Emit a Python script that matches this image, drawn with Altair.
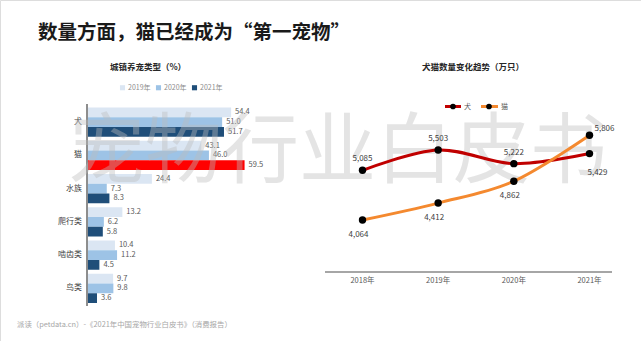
import altair as alt
import pandas as pd

TITLE = "数量方面，猫已经成为“第一宠物”"
LEFT_TITLE = "城镇养宠类型（%）"
RIGHT_TITLE = "犬猫数量变化趋势（万只）"
WATERMARK = "宠物行业白皮书"
SOURCE = "派读（petdata.cn）-《2021年中国宠物行业白皮书》（消费报告）"

categories = ["犬", "猫", "水族", "爬行类", "啮齿类", "鸟类"]
bar_years = ["2019年", "2020年", "2021年"]
share_2019 = [54.4, 43.1, 24.4, 13.2, 10.4, 9.7]
share_2020 = [51.0, 46.0, 7.3, 6.2, 11.2, 9.8]
share_2021 = [51.7, 59.5, 8.3, 5.8, 4.5, 3.6]
highlight = ("猫", "2021年")

line_years = ["2018年", "2019年", "2020年", "2021年"]
series = ["犬", "猫"]
dog_count = [5085, 5503, 5222, 5429]
cat_count = [4064, 4412, 4862, 5806]

FONT = "Noto Sans CJK SC"
C19, C20, C21, CHL = "#dbe6f3", "#9dc3e6", "#1f4e79", "#ff0000"
C_DOG, C_CAT = "#c00000", "#f4892f"

rows = []
for i, c in enumerate(categories):
    for yr, vals in zip(bar_years, [share_2019, share_2020, share_2021]):
        key = "hl" if (c, yr) == highlight else yr
        rows.append(dict(cat=c, year=yr, value=vals[i], key=key))
bars_df = pd.DataFrame(rows)
cat_df = pd.DataFrame({"cat": categories})

lrows = []
for s, vals in zip(series, [dog_count, cat_count]):
    for yr, v in zip(line_years, vals):
        lrows.append(dict(series=s, year=yr, value=v))
line_df = pd.DataFrame(lrows)
year_df = pd.DataFrame({"year": line_years})

# ---------------- bar block ----------------
y_cat = alt.Y("cat:N", scale=alt.Scale(domain=categories, range=[105.5, 305],
                                        paddingInner=0.12, paddingOuter=0.06), axis=None)
x_val = alt.X("value:Q", scale=alt.Scale(domain=[0, 100], range=[87.5, 351.5],
                                          zero=False, nice=False), axis=None)
y_off = alt.YOffset("year:N", scale=alt.Scale(domain=bar_years, paddingInner=0, paddingOuter=0))

bars = alt.Chart(bars_df).mark_bar().encode(
    x=x_val, y=y_cat, yOffset=y_off,
    color=alt.Color("key:N",
                    scale=alt.Scale(domain=bar_years + ["hl"], range=[C19, C20, C21, CHL]),
                    legend=alt.Legend(values=bar_years, orient="none", legendX=119, legendY=84,
                                      direction="horizontal", title=None, symbolType="square",
                                      symbolSize=26, symbolStrokeWidth=0, labelFontSize=7,
                                      labelFont=FONT, labelColor="#8c8c8c", columnPadding=4,
                                      labelOffset=2)),
)
bar_labels = alt.Chart(bars_df).mark_text(align="left", baseline="middle", dx=4, fontSize=7.5,
                                          color="#595959").encode(
    x=x_val, y=y_cat, yOffset=y_off, text=alt.Text("value:Q", format=".1f"))
cat_labels = alt.Chart(cat_df).mark_text(align="right", baseline="middle", fontSize=8,
                                         color="#404040").encode(
    x=alt.value(82), y=y_cat, text="cat:N")
bar_axis = alt.Chart(cat_df).mark_rule(color="#8c8c8c", strokeWidth=1).encode(
    x=alt.value(87), y=alt.value(104), y2=alt.value(306))
bar_block = alt.layer(bars, bar_labels, cat_labels, bar_axis)

# ---------------- line block ----------------
x_year = alt.X("year:O", scale=alt.Scale(type="point", domain=line_years, range=[362.5, 589.5],
                                          padding=0), axis=None)
y_cnt = alt.Y("value:Q", scale=alt.Scale(domain=[3000, 6000], range=[271.8, 125.8],
                                          zero=False, nice=False), axis=None)

lines = alt.Chart(line_df).mark_line(interpolate="cardinal", strokeWidth=3).encode(
    x=x_year, y=y_cnt,
    color=alt.Color("series:N", scale=alt.Scale(domain=series, range=[C_DOG, C_CAT]), legend=None))
points = alt.Chart(line_df).mark_point(filled=True, size=55, color="black", opacity=1).encode(
    x=x_year, y=y_cnt)

lab_style = dict(fontSize=8, color="#404040", baseline="middle")
lab_dog = alt.Chart(line_df).transform_filter(
    (alt.datum.series == series[0]) & (alt.datum.year != line_years[-1])
).mark_text(dy=-11, **lab_style).encode(x=x_year, y=y_cnt, text=alt.Text("value:Q", format=",d"))
lab_dog_last = alt.Chart(line_df).transform_filter(
    (alt.datum.series == series[0]) & (alt.datum.year == line_years[-1])
).mark_text(dy=19, dx=8, **lab_style).encode(x=x_year, y=y_cnt, text=alt.Text("value:Q", format=",d"))
lab_cat = alt.Chart(line_df).transform_filter(
    (alt.datum.series == series[1]) & (alt.datum.year != line_years[-1])
).mark_text(dy=15, dx=-4, **lab_style).encode(x=x_year, y=y_cnt, text=alt.Text("value:Q", format=",d"))
lab_cat_last = alt.Chart(line_df).transform_filter(
    (alt.datum.series == series[1]) & (alt.datum.year == line_years[-1])
).mark_text(dy=-6, dx=5, align="left", **lab_style).encode(x=x_year, y=y_cnt,
                                                           text=alt.Text("value:Q", format=",d"))
year_labels = alt.Chart(year_df).mark_text(fontSize=7.5, color="#595959", baseline="middle").encode(
    x=x_year, y=alt.value(281), text="year:N")
line_axis = alt.Chart(year_df).mark_rule(color="#a6a6a6", strokeWidth=1.5).encode(
    x=alt.value(325), x2=alt.value(612), y=alt.value(272))

line_block = alt.layer(lines, points, lab_dog, lab_dog_last, lab_cat, lab_cat_last,
                       year_labels, line_axis)

# ---------------- manual legend for lines ----------------
leg_df = pd.DataFrame({"s": series})
leg_parts = []
for s, col, x0, x1, xp, xt in [(series[0], C_DOG, 445, 461, 453, 464),
                               (series[1], C_CAT, 481, 498, 489, 501)]:
    d = leg_df[leg_df.s == s]
    leg_parts.append(alt.Chart(d).mark_rule(color=col, strokeWidth=3).encode(
        x=alt.value(x0), x2=alt.value(x1), y=alt.value(106.5)))
    leg_parts.append(alt.Chart(d).mark_point(filled=True, size=32, color="black", opacity=1).encode(
        x=alt.value(xp), y=alt.value(106.5)))
    leg_parts.append(alt.Chart(d).mark_text(align="left", baseline="middle", fontSize=7,
                                            color="#595959").encode(
        x=alt.value(xt), y=alt.value(106.5), text="s:N"))


def text_mark(txt, x, y, **kw):
    return alt.Chart(pd.DataFrame({"t": [txt]})).mark_text(**kw).encode(
        x=alt.value(x), y=alt.value(y), text="t:N")


heading = text_mark(TITLE, 38, 33, align="left", baseline="middle", fontSize=19.5,
                    fontWeight="bold", color="#1a1a1a")
left_title = text_mark(LEFT_TITLE, 148, 67, align="center", baseline="middle", fontSize=8.5,
                       fontWeight="bold", color="#262626")
right_title = text_mark(RIGHT_TITLE, 473, 67, align="center", baseline="middle", fontSize=8.5,
                        fontWeight="bold", color="#262626")
source = text_mark(SOURCE, 17, 325, align="left", baseline="middle", fontSize=7.4, color="#a6a6a6")
watermark = text_mark(WATERMARK, 68, 154, align="left", baseline="middle", fontSize=77,
                      color="#bdbdbd", opacity=0.4)

chart = alt.layer(
    bar_block, watermark, line_block, *leg_parts, heading, left_title, right_title, source
).resolve_scale(
    x="independent", y="independent", color="independent"
).properties(
    width=641, height=341, autosize=alt.AutoSizeParams(type="none"), padding=0,
    background="white"
).configure_view(stroke=None).configure(font=FONT).configure_text(font=FONT)

chart.save("out.html", embed_options={"renderer": "svg", "actions": False})
